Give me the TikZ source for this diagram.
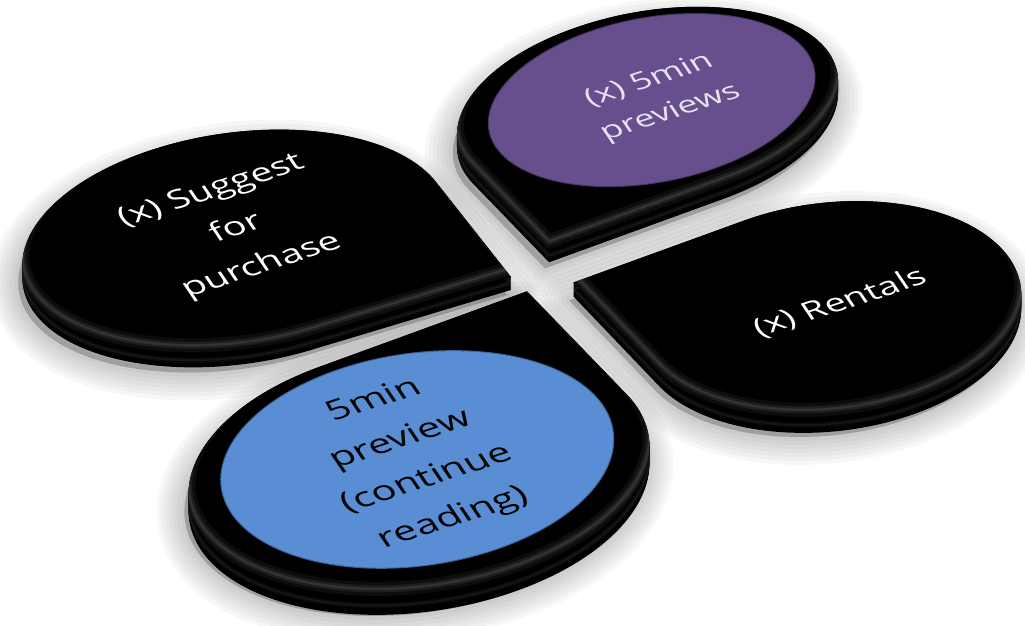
\documentclass[tikz,border=0pt]{standalone}
\usepackage{fontspec}
\setmainfont{Open Sans}
\definecolor{tdpurple}{HTML}{674E8C}
\definecolor{tdblue}{HTML}{5A8ED4}
\definecolor{tdlilac}{HTML}{E6E1EF}
\tikzset{
  tdtext/.style={align=center, inner sep=0pt, cm={0.951,0.309,-0.413,0.613,(0,0)}},
}
\newcommand\tdrop[1]{({#1-45}:100) -- ({#1}:141.42) -- ({#1+45}:100) arc[start angle={#1+45}, end angle={#1+315}, radius=100] -- cycle}
\newcommand\tdshadow[7]{%
  \foreach \w in {56,48,40,32,24,16,8,0}{%
    \filldraw[black,opacity=0.03,line width=\w pt,line join=round,xshift=-4pt,yshift=-18pt,cm={#1,#2,#3,#4,(#5,#6)}] \tdrop{#7};}}
\newcommand\tdbody[8]{%
  \foreach \s in {0,1,...,#8}{%
    \fill[black,yshift=-\s pt,cm={#1,#2,#3,#4,(#5,#6)}] \tdrop{#7};}
  \draw[gray,opacity=0.08,line width=5pt,yshift={-0.45*#8pt},cm={#1,#2,#3,#4,(#5,#6)}] \tdrop{#7};
  \draw[gray,opacity=0.12,line width=1.5pt,yshift={-0.45*#8pt},cm={#1,#2,#3,#4,(#5,#6)}] \tdrop{#7};
  \fill[black,cm={#1,#2,#3,#4,(#5,#6)}] \tdrop{#7};
  \begin{scope}
    \clip[cm={#1,#2,#3,#4,(#5,#6)}] \tdrop{#7};
    \draw[white,opacity=0.05,line width=14pt,yshift=9pt,cm={#1,#2,#3,#4,(#5,#6)}] \tdrop{#7};
    \draw[white,opacity=0.07,line width=7pt,yshift=9pt,cm={#1,#2,#3,#4,(#5,#6)}] \tdrop{#7};
    \draw[white,opacity=0.09,line width=2.5pt,yshift=9pt,cm={#1,#2,#3,#4,(#5,#6)}] \tdrop{#7};
  \end{scope}}
\begin{document}
\begin{tikzpicture}[x=1pt,y=1pt]
\useasboundingbox (0,0) rectangle (1025,626);
% shadows
\tdshadow{1.746}{0.635}{-0.762}{0.788}{647.5}{518}{225}
\tdshadow{2.00}{0.60}{-0.75}{0.95}{236}{384}{315}
\tdshadow{1.71}{0.62}{-0.856}{0.895}{830}{316}{135}
\tdshadow{2.077}{0.756}{-0.997}{1.031}{419}{156}{45}
% top right (purple)
\tdbody{1.746}{0.635}{-0.762}{0.788}{647.5}{518}{225}{12}
\begin{scope}[cm={1.746,0.635,-0.762,0.788,(647.5,518)}]
  \fill[tdpurple] (5,6) circle[radius=86];
  \draw[black,opacity=0.3,line width=2pt] (5,6) circle[radius=86];
\end{scope}
\node[tdtext, text=tdlilac, font=\fontsize{35}{52}\selectfont] (tr) at (660,529) {(x) 5min\\previews};
% top left
\tdbody{2.00}{0.60}{-0.75}{0.95}{236}{384}{315}{13}
\node[tdtext, text=white, font=\fontsize{38}{61}\selectfont] (tl) at (237,397) {(x) Suggest\\for\\purchase};
% bottom right
\tdbody{1.71}{0.62}{-0.856}{0.895}{830}{316}{135}{14}
\node[tdtext, text=white, font=\fontsize{37}{50}\selectfont] (br) at (840,323) {(x) Rentals};
% bottom left (blue)
\tdbody{2.077}{0.756}{-0.997}{1.031}{419}{156}{45}{17}
\begin{scope}[cm={2.077,0.756,-0.997,1.031,(419,156)}]
  \fill[tdblue] (3,8) circle[radius=85.5];
  \draw[black,opacity=0.3,line width=2pt] (3,8) circle[radius=85.5];
\end{scope}
\node[tdtext, text=black, font=\fontsize{40}{64}\selectfont] (bl) at (414,166) {5min\\preview\\(continue\\reading)};
\end{tikzpicture}
\end{document}
